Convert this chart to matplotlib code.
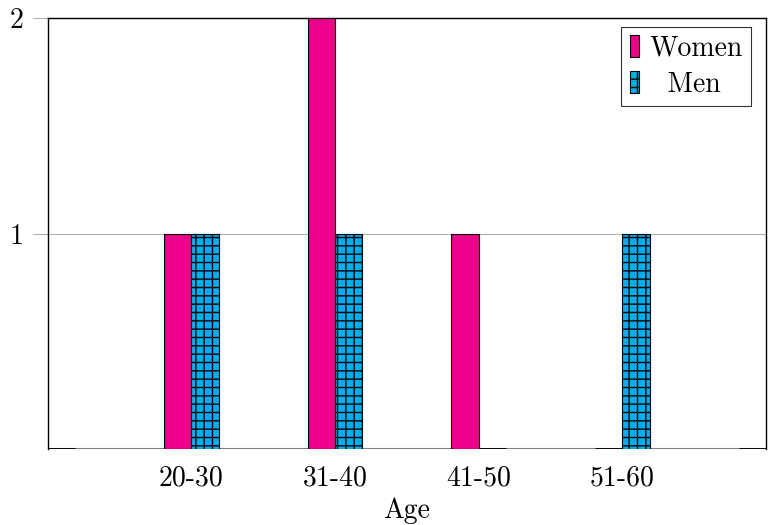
import numpy as np
import matplotlib
matplotlib.use("Agg")
import matplotlib.pyplot as plt

plt.rcParams['font.family'] = ['cmr10', 'DejaVu Serif']
plt.rcParams['mathtext.fontset'] = 'cm'
plt.rcParams['axes.unicode_minus'] = False
plt.rcParams['hatch.linewidth'] = 1.0

# data
age_groups = ['', '20-30', '31-40', '41-50', '51-60', '']
women = [0, 1, 2, 1, 0, 0]
men = [0, 1, 1, 0, 1, 0]

women_color = '#EC008C'
men_color = '#00AEEF'

fig = plt.figure(figsize=(7.79, 5.25), dpi=100)
ax = fig.add_axes([47.5/779, 76/525, (766-47.5)/779, (449-18)/525])

x = np.arange(len(age_groups))
w = 0.19

ax.bar(x - w/2, women, w, color=women_color, edgecolor='black', linewidth=0.8,
       label='Women', zorder=3)
ax.bar(x + w/2, men, w, color=men_color, edgecolor='black', linewidth=0.8,
       hatch='++', label='  Men', zorder=3)

# zero-height bars show up as short black strokes on the baseline
wz = np.array(women) == 0
mz = np.array(men) == 0
ax.hlines(np.zeros(wz.sum()), x[wz] - w, x[wz], color='black', linewidth=2, zorder=4)
ax.hlines(np.zeros(mz.sum()), x[mz], x[mz] + w, color='black', linewidth=2, zorder=4)

ax.set_xlim(0, 5)
ax.set_ylim(0, 2)
ax.set_xticks(x[1:5])
ax.set_xticklabels(age_groups[1:5], fontsize=20)
ax.tick_params(axis='x', length=0, pad=12)
ax.set_yticks([1, 2])
ax.set_yticklabels(['1', '2'], fontsize=20)
ax.tick_params(axis='y', length=11, width=0.8, color='#b0b0b0', pad=6)
ax.grid(axis='y', color='#b0b0b0', linewidth=0.8, zorder=0)
ax.axhline(0, color='#808080', linewidth=1.5, zorder=2)

for s in ['left', 'right', 'top']:
    ax.spines[s].set_linewidth(1.0)
ax.spines['bottom'].set_visible(False)

ax.set_xlabel('Age', fontsize=20, labelpad=4)

leg = ax.legend(loc='upper right', fontsize=20, frameon=True, fancybox=False,
                edgecolor='black', handlelength=0.35, handleheight=0.8,
                handletextpad=0.35, borderpad=0.3, labelspacing=0.35,
                borderaxespad=0, bbox_to_anchor=(0.979, 0.979))
leg.get_frame().set_linewidth(0.8)

fig.savefig('out.png', dpi=100)
